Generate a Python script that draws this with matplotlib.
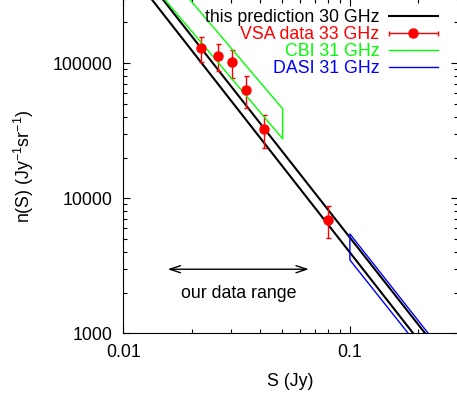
import matplotlib
matplotlib.use('Agg')
import matplotlib.pyplot as plt
import numpy as np
from matplotlib.legend_handler import HandlerErrorbar

# Model prediction band at 30 GHz (two bounding lines, clipped by the axes)
PRED_S = [0.01, 0.3]
PRED_LOW = [5.5e5, 377]
PRED_HIGH = [6.97e5, 490]

# VSA source counts at 33 GHz
VSA_S = [0.0220, 0.0261, 0.0301, 0.0347, 0.0416, 0.0800]
VSA_N = [129000, 113300, 101700, 63400, 32600, 6910]
VSA_UP = [157000, 138300, 125500, 79600, 41400, 8810]
VSA_DOWN = [102200, 87700, 77400, 46400, 23500, 5110]

# CBI 31 GHz constraint box
CBI_S = [0.013, 0.0505, 0.0505, 0.013, 0.013]
CBI_N = [4.05e5, 27500, 45900, 6.67e5, 4.05e5]

# DASI 31 GHz constraint box
DASI_S = [0.3, 0.1, 0.1, 0.3]
DASI_N = [344, 3490, 5440, 525]

# "our data range" arrow
RANGE_S = [0.0157, 0.0659]
RANGE_N = 2980
RANGE_LABEL_S = 0.0324
RANGE_LABEL_N = 1955

plt.rcParams['font.family'] = 'Liberation Sans'
plt.rcParams['mathtext.fontset'] = 'custom'
plt.rcParams['mathtext.rm'] = 'Liberation Sans'
plt.rcParams['mathtext.it'] = 'Liberation Sans:italic'
plt.rcParams['font.size'] = 12.8

fig = plt.figure(figsize=(4.57, 3.96), dpi=100)
ax = fig.add_axes([123.3 / 457, 1 - 333.3 / 396, 334.7 / 457, 334.7 / 396])

ax.plot(PRED_S, PRED_LOW, color='black', lw=1.5)
ax.plot(PRED_S, PRED_HIGH, color='black', lw=1.5, label='this prediction 30 GHz')

ax.errorbar(VSA_S, VSA_N,
            yerr=[np.subtract(VSA_N, VSA_DOWN), np.subtract(VSA_UP, VSA_N)],
            fmt='o', color='red', ms=6.5, elinewidth=1.0, capsize=1.8, capthick=1.0)
# proxy for the gnuplot style legend sample
proxy = ax.errorbar([np.nan], [np.nan], xerr=[np.nan], fmt='o', color='red',
                    ms=6.5, elinewidth=1.0, capsize=1.8, capthick=1.0,
                    label='VSA data 33 GHz')

ax.plot(CBI_S, CBI_N, color='#00ff00', lw=1.0, label='CBI 31 GHz')
ax.plot(DASI_S, DASI_N, color='blue', lw=1.0, label='DASI 31 GHz')

ax.annotate('', xy=(RANGE_S[0], RANGE_N), xytext=(RANGE_S[1], RANGE_N),
            arrowprops=dict(arrowstyle='<->,head_length=0.6,head_width=0.2',
                            color='black', lw=1.0, shrinkA=0, shrinkB=0))
ax.text(RANGE_LABEL_S, RANGE_LABEL_N, 'our data range', ha='center', va='center')

ax.set_xscale('log')
ax.set_yscale('log')
ax.set_xlim(0.01, 0.3)
ax.set_ylim(1000, 3e5)
ax.set_xticks([0.01, 0.1])
ax.set_xticklabels(['0.01', '0.1'])
ax.set_yticks([1000, 10000, 100000])
ax.set_yticklabels(['1000', '10000', '100000'])
ax.tick_params(which='both', direction='in', top=True, right=True)
ax.tick_params(which='major', length=5, width=0.8)
ax.tick_params(which='minor', length=3, width=0.8)
ax.tick_params(axis='x', which='major', pad=8)
ax.tick_params(axis='y', which='major', pad=8)

ax.set_xlabel('S (Jy)', labelpad=8)
ax.set_ylabel('n(S) (Jy$^{-1}$sr$^{-1}$)', labelpad=12)

handles, labels = ax.get_legend_handles_labels()
order = ['this prediction 30 GHz', 'VSA data 33 GHz', 'CBI 31 GHz', 'DASI 31 GHz']
hmap = dict(zip(labels, handles))
leg = ax.legend([hmap[k] for k in order], order, loc='upper right',
                bbox_to_anchor=(0.94, 0.969), frameon=False, markerfirst=False,
                handlelength=2.75, handletextpad=0.55, labelspacing=0.0,
                borderpad=0, borderaxespad=0,
                handler_map={type(proxy): HandlerErrorbar(xerr_size=1.37)})
colors = ['black', 'red', '#00ff00', 'blue']
for t, c in zip(leg.get_texts(), colors):
    t.set_color(c)

plt.savefig('out.png', dpi=100)
